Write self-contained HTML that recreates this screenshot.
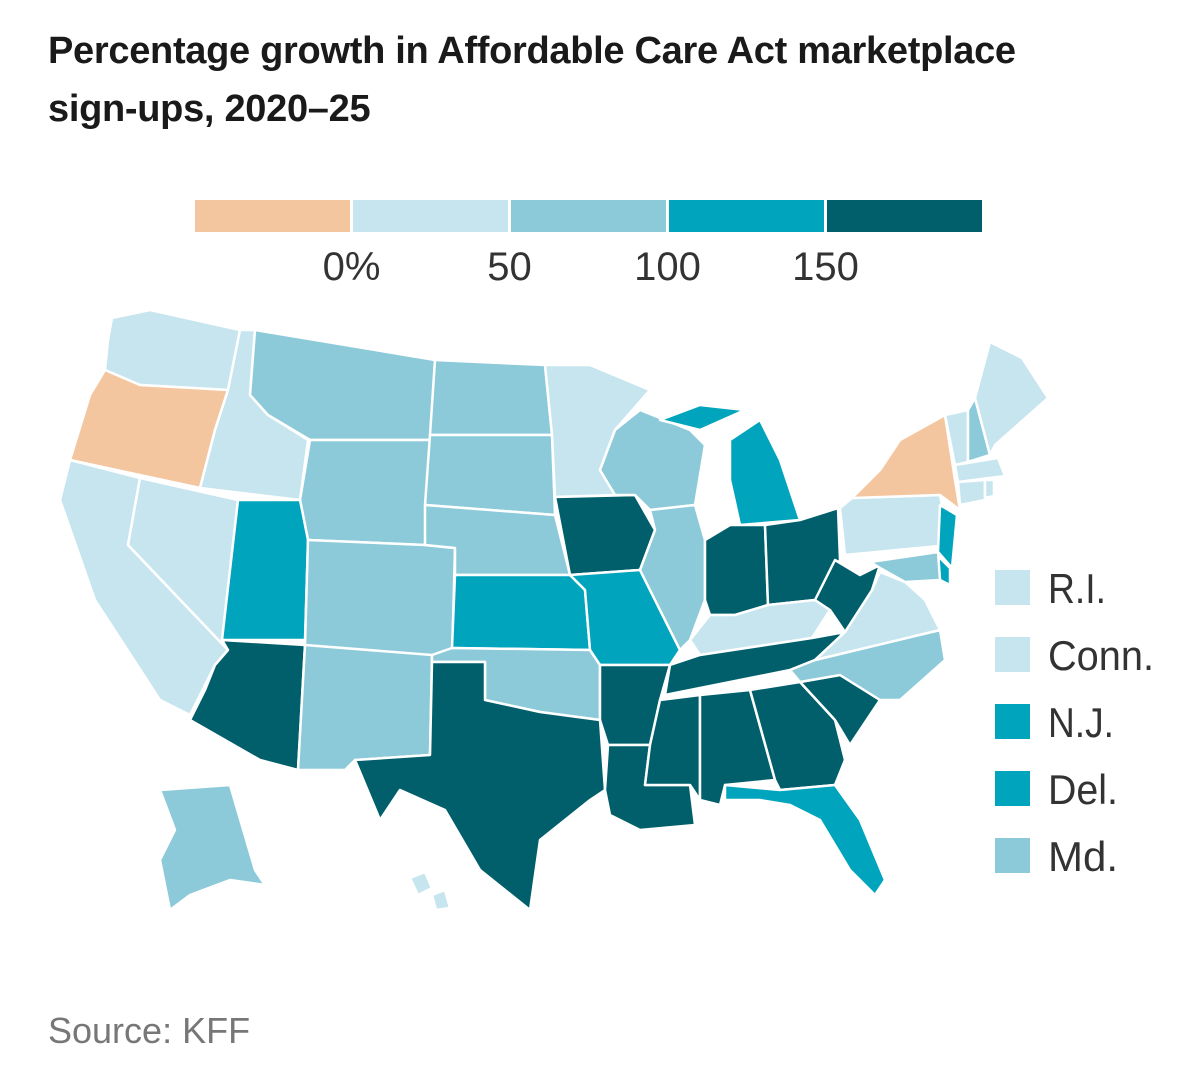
<!DOCTYPE html>
<html><head><meta charset="utf-8"><style>
body{margin:0;background:#fff;width:1189px;height:1091px;overflow:hidden;font-family:"Liberation Sans",sans-serif}
.t{position:absolute;left:48px;font-weight:bold;font-size:38px;color:#1a1a1a;letter-spacing:-0.3px}
</style></head><body>
<div class="t" style="top:22px;line-height:58px">Percentage growth in Affordable Care Act marketplace<br>sign-ups, 2020–25</div>
<svg id="s" width="1189" height="1091" style="position:absolute;left:0;top:0">
<g id="bar"></g><g id="map"></g><g id="leg"></g>
<text x="48" y="1043" font-size="36" fill="#777">Source: KFF</text>
</svg>
<script>
const binEdges=[0,50,100,150];
const binColors=['#f4c6a0','#c6e5ef','#8ccad9','#00a4bc','#005f6b'];
const tickLabels=['0%','50','100','150'];
const states=['WA','OR','CA','NV','ID','MT','WY','UT','CO','AZ','NM','ND','SD','NE','KS','OK','TX','MN','IA','MO','AR','LA','WI','IL','MI','MIU','IN','OH','KY','TN','MS','AL','GA','FL','SC','NC','VA','WV','PA','NY','NJ','DE','MD','VT','NH','ME','MA','CT','RI','AK','HI1','HI2'];
const growth=[30,-10,25,40,45,70,75,130,80,170,85,70,75,80,125,90,200,40,160,120,180,190,80,75,120,120,170,170,40,200,210,210,200,120,190,90,40,160,30,-15,110,115,60,30,60,30,35,40,30,80,35,35];
const legendStates=['R.I.','Conn.','N.J.','Del.','Md.'];
const legendGrowth=[30,40,110,115,60];
const legendWidths=[58,106,66,70,70];
const shapes={
WA:[[112,318],[150,310],[240,330],[228,390],[140,385],[105,370],[108,340]],
OR:[[105,370],[140,385],[228,390],[215,430],[200,488],[70,460],[90,395]],
CA:[[70,460],[140,478],[128,545],[228,650],[215,665],[190,715],[160,700],[95,600],[60,500]],
NV:[[140,478],[238,500],[222,640],[228,650],[128,545]],
ID:[[240,330],[255,330],[250,395],[268,415],[308,440],[300,500],[200,488],[215,430],[228,390]],
MT:[[255,330],[435,360],[430,440],[310,440],[268,415],[250,395]],
WY:[[310,440],[430,440],[425,545],[308,540],[300,500]],
UT:[[238,500],[300,500],[308,540],[305,640],[222,640]],
CO:[[308,540],[425,545],[455,548],[452,660],[305,645]],
AZ:[[222,640],[305,645],[298,770],[260,760],[190,720],[205,690],[215,665],[228,650]],
NM:[[305,645],[432,655],[430,755],[355,760],[345,770],[298,770]],
ND:[[435,360],[545,365],[552,435],[430,435]],
SD:[[430,435],[552,435],[555,515],[425,505]],
NE:[[425,505],[555,515],[570,575],[455,575],[455,548],[425,545]],
KS:[[455,575],[570,575],[585,590],[590,650],[452,648]],
OK:[[432,655],[452,648],[590,650],[600,665],[600,720],[540,712],[485,700],[485,662],[432,662]],
TX:[[432,662],[485,662],[485,700],[540,712],[600,720],[605,790],[590,800],[540,840],[530,910],[480,870],[445,810],[400,790],[380,820],[355,760],[430,755]],
MN:[[545,365],[590,365],[650,390],[615,430],[600,470],[615,495],[555,497],[552,435]],
IA:[[555,497],[635,495],[655,530],[640,570],[570,575]],
MO:[[570,575],[640,570],[655,600],[680,650],[670,665],[600,665],[590,650],[585,590]],
AR:[[600,665],[670,665],[660,700],[650,745],[608,745],[600,720]],
LA:[[608,745],[650,745],[645,785],[690,785],[695,825],[640,830],[610,815],[605,790]],
WI:[[615,430],[640,410],[690,430],[705,445],[695,505],[650,510],[635,495],[615,495],[600,470]],
IL:[[650,510],[695,505],[705,540],[705,600],[690,640],[680,650],[655,600],[640,570],[655,530]],
MI:[[730,440],[760,420],[780,460],[800,520],[740,525],[730,480]],
MIU:[[660,420],[700,405],[745,410],[700,430]],
IN:[[705,540],[730,525],[765,525],[768,605],[735,615],[710,615],[705,600]],
OH:[[765,525],[800,520],[838,508],[840,560],[815,600],[768,605]],
KY:[[690,640],[710,615],[735,615],[768,605],[815,600],[830,610],[812,638],[700,655]],
TN:[[670,665],[700,655],[812,638],[845,632],[815,660],[790,670],[665,695]],
MS:[[660,700],[700,695],[700,800],[690,785],[645,785],[650,745]],
AL:[[700,695],[750,690],[775,780],[725,785],[720,805],[700,800]],
GA:[[750,690],[800,682],[835,720],[845,760],[835,785],[780,790],[775,780]],
FL:[[725,785],[780,790],[835,785],[860,820],[885,880],[875,895],[850,870],[820,820],[790,805],[760,800],[725,800]],
SC:[[800,682],[840,675],[880,700],[850,745],[835,720]],
NC:[[790,670],[815,660],[940,630],[945,660],[900,700],[880,700],[840,675],[800,682]],
VA:[[815,660],[845,632],[872,590],[880,572],[905,582],[925,600],[940,630]],
WV:[[835,560],[860,575],[880,565],[872,590],[845,632],[830,610],[815,600]],
PA:[[840,508],[852,498],[940,495],[950,545],[845,555]],
NY:[[852,498],[880,470],[900,440],[945,415],[955,480],[960,510],[940,495]],
NJ:[[940,505],[957,515],[952,568],[938,552]],
DE:[[938,556],[950,568],[950,585],[940,580]],
MD:[[870,562],[938,552],[940,580],[905,582],[880,568]],
VT:[[945,415],[968,410],[968,462],[955,465]],
NH:[[968,410],[975,398],[990,455],[968,462]],
ME:[[975,398],[990,342],[1022,358],[1048,398],[995,445],[990,455]],
MA:[[955,465],[998,458],[1005,476],[958,482]],
CT:[[958,482],[985,480],[985,500],[960,505]],
RI:[[985,480],[994,480],[994,496],[985,498]],
AK:[[160,790],[230,785],[255,870],[265,885],[230,880],[190,895],[170,910],[160,860],[175,830]],
HI1:[[410,878],[425,872],[432,888],[418,895]],
HI2:[[432,895],[445,890],[450,908],[436,910]]};
function colorFor(v){let i=0;while(i<binEdges.length&&v>=binEdges[i])i++;return binColors[i];}
const NS='http://www.w3.org/2000/svg';
const map=document.getElementById('map');
states.forEach((st,i)=>{const p=document.createElementNS(NS,'polygon');
p.setAttribute('points',shapes[st].map(q=>q.join(',')).join(' '));
p.setAttribute('fill',colorFor(growth[i]));p.setAttribute('stroke','#fff');p.setAttribute('stroke-width','2.5');p.setAttribute('stroke-linejoin','round');


map.appendChild(p);});
const bar=document.getElementById('bar');
const bx0=195,segW=155,gap=3,by=200,bh=32;
binColors.forEach((c,i)=>{const r=document.createElementNS(NS,'rect');
r.setAttribute('x',bx0+i*(segW+gap));r.setAttribute('y',by);r.setAttribute('width',segW);r.setAttribute('height',bh);r.setAttribute('fill',c);


bar.appendChild(r);});
tickLabels.forEach((t,i)=>{const tx=document.createElementNS(NS,'text');
tx.setAttribute('x',bx0+(i+1)*(segW+gap)-gap/2);tx.setAttribute('y',280);tx.setAttribute('text-anchor','middle');tx.setAttribute('font-size','40');tx.setAttribute('fill','#333');
tx.textContent=t;


bar.appendChild(tx);});
const leg=document.getElementById('leg');
legendStates.forEach((n,i)=>{const y=570+i*67;const r=document.createElementNS(NS,'rect');
r.setAttribute('x',995);r.setAttribute('y',y);r.setAttribute('width',35);r.setAttribute('height',35);r.setAttribute('fill',colorFor(legendGrowth[i]));


leg.appendChild(r);
const t=document.createElementNS(NS,'text');t.setAttribute('x',1048);t.setAttribute('y',y+33);t.setAttribute('font-size','42');t.setAttribute('fill','#333');
t.setAttribute('textLength',legendWidths[i]);t.setAttribute('lengthAdjust','spacingAndGlyphs');t.textContent=n;


leg.appendChild(t);});
</script>
</body></html>
